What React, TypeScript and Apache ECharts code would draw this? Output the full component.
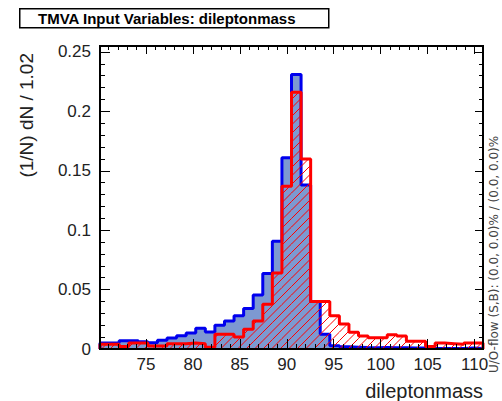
import React, { useEffect, useRef } from "react";
import * as echarts from "echarts";

// ---- data ----
const binWidth = 1.02;
const xMin = 70.1;
const xMax = 110.9;
const yMax = 0.255;

// signal (blue, filled) per bin, 40 bins of width 1.02 starting at xMin
const signalValues = [
  0.005, 0.005, 0.007, 0.007, 0.006, 0.0053, 0.0073, 0.0093, 0.0112, 0.0135,
  0.0175, 0.0143, 0.02, 0.0236, 0.028, 0.034, 0.0455, 0.0635, 0.0906, 0.161,
  0.231, 0.138, 0.04, 0.0125, 0.0028, 0.0018, 0.0015, 0.0012, 0.001, 0.0012,
  0.001, 0.001, 0.0008, 0.0008, 0.0006, 0.0005, 0.0005, 0.0005, 0.0008, 0.0005,
];

// background (red, hatched) per bin
const backgroundValues = [
  0.004, 0.004, 0.002, 0.005, 0.005, 0.0025, 0.0025, 0.0045, 0.0045, 0.005,
  0.0045, 0.0015, 0.0124, 0.0124, 0.01, 0.0166, 0.0236, 0.0377, 0.064, 0.137,
  0.216, 0.16, 0.04, 0.04, 0.028, 0.021, 0.014, 0.011, 0.0095, 0.0095,
  0.012, 0.011, 0.0065, 0.0065, 0.002, 0.005, 0.0045, 0.004, 0.005, 0.005,
];

const xMajorTicks = [75, 80, 85, 90, 95, 100, 105, 110];
const xMinorTicks = [
  71, 72, 73, 74, 76, 77, 78, 79, 81, 82, 83, 84, 86, 87, 88, 89, 91, 92, 93, 94,
  96, 97, 98, 99, 101, 102, 103, 104, 106, 107, 108, 109,
];
const yMajorTicks = [0, 0.05, 0.1, 0.15, 0.2, 0.25];
const yMinorTicks = [
  0.01, 0.02, 0.03, 0.04, 0.06, 0.07, 0.08, 0.09, 0.11, 0.12, 0.13, 0.14,
  0.16, 0.17, 0.18, 0.19, 0.21, 0.22, 0.23, 0.24,
];

const titleText = "TMVA Input Variables: dileptonmass";
const yTitle = "(1/N) dN / 1.02";
const xTitle = "dileptonmass";
const flowText = "U/O-flow (S,B): (0.0, 0.0)% / (0.0, 0.0)%";

function stepData(values: number[]) {
  const pts: number[][] = [[xMin, 0]];
  values.forEach((v, i) => pts.push([xMin + i * binWidth, v]));
  const end = xMin + values.length * binWidth;
  pts.push([end, values[values.length - 1]]);
  pts.push([end, 0]);
  return pts;
}

function binData(values: number[]) {
  return values.map((v, i) => [xMin + i * binWidth, xMin + (i + 1) * binWidth, v]);
}

const FONT = "Liberation Sans, Arial, Helvetica, sans-serif";

function xAxisDef(position: string, ticks: number[], len: number, labels: boolean) {
  return {
    type: "value",
    min: xMin,
    max: xMax,
    position,
    z: 11,
    axisLine: { show: false, onZero: false },
    splitLine: { show: false },
    axisTick: {
      show: true,
      inside: true,
      length: len,
      customValues: ticks,
      lineStyle: { color: "#000", width: 1 },
    },
    axisLabel: labels
      ? {
          show: true,
          customValues: ticks,
          fontSize: 17,
          fontFamily: FONT,
          color: "#222",
          margin: 7,
          formatter: (v: number) => String(v),
        }
      : { show: false },
  };
}

function yAxisDef(position: string, ticks: number[], len: number, labels: boolean) {
  return {
    type: "value",
    min: 0,
    max: yMax,
    position,
    z: 11,
    axisLine: { show: false, onZero: false },
    splitLine: { show: false },
    axisTick: {
      show: true,
      inside: true,
      length: len,
      customValues: ticks,
      lineStyle: { color: "#000", width: 1 },
    },
    axisLabel: labels
      ? {
          show: true,
          customValues: ticks,
          fontSize: 17,
          fontFamily: FONT,
          color: "#222",
          margin: 9,
          formatter: (v: number) => String(v),
        }
      : { show: false },
  };
}

export default function App() {
  const ref = useRef<HTMLDivElement>(null);

  useEffect(() => {
    document.body.style.margin = "0";
    if (!ref.current) return;
    const chart = echarts.init(ref.current, null, { renderer: "svg" });
    const hatchSpacing = 8.5;

    const option: any = {
      animation: false,
      grid: {
        left: 100,
        top: 46,
        width: 383,
        height: 303,
        show: true,
        borderColor: "#000",
        borderWidth: 2,
        backgroundColor: "transparent",
        z: 10,
      },
      xAxis: [
        xAxisDef("bottom", xMajorTicks, 10, true),
        xAxisDef("bottom", xMinorTicks, 5, false),
        xAxisDef("top", xMajorTicks, 8, false),
        xAxisDef("top", xMinorTicks, 4, false),
      ],
      yAxis: [
        yAxisDef("left", yMajorTicks, 10, true),
        yAxisDef("left", yMinorTicks, 5, false),
        yAxisDef("right", yMajorTicks, 8, false),
        yAxisDef("right", yMinorTicks, 4, false),
      ],
      series: [
        {
          name: "Signal",
          type: "line",
          xAxisIndex: 0,
          yAxisIndex: 0,
          data: stepData(signalValues),
          step: "end",
          symbol: "none",
          showSymbol: false,
          z: 2,
          lineStyle: { color: "#0000ee", width: 3 },
          areaStyle: { color: "#7d99d1", opacity: 1 },
        },
        {
          name: "Background hatch",
          type: "custom",
          xAxisIndex: 0,
          yAxisIndex: 0,
          z: 3,
          data: binData(backgroundValues),
          encode: { x: [0, 1], y: 2 },
          renderItem: (params: any, api: any) => {
            const x0 = api.value(0);
            const x1 = api.value(1);
            const v = api.value(2);
            const p0 = api.coord([x0, 0]);
            const p1 = api.coord([x1, v]);
            const left = p0[0];
            const right = p1[0];
            const bottom = p0[1];
            const top = p1[1];
            const children: any[] = [];
            const kmin = Math.ceil((left + top) / hatchSpacing);
            const kmax = Math.floor((right + bottom) / hatchSpacing);
            for (let k = kmin; k <= kmax; k++) {
              const c = k * hatchSpacing;
              const xs = Math.max(left, c - bottom);
              const xe = Math.min(right, c - top);
              if (xe > xs) {
                children.push({
                  type: "line",
                  shape: { x1: xs, y1: c - xs, x2: xe, y2: c - xe },
                  style: { stroke: "#ff0000", lineWidth: 1 },
                });
              }
            }
            return { type: "group", children };
          },
        },
        {
          name: "Background",
          type: "line",
          xAxisIndex: 0,
          yAxisIndex: 0,
          data: stepData(backgroundValues),
          step: "end",
          symbol: "none",
          showSymbol: false,
          z: 4,
          lineStyle: { color: "#ff0000", width: 3 },
        },
      ],
      graphic: [
        {
          type: "rect",
          left: 19,
          top: 8,
          z: 20,
          shape: { width: 309, height: 19 },
          style: { fill: "#fff", stroke: "#000", lineWidth: 1.5 },
        },
        {
          type: "text",
          x: 38,
          y: 18,
          z: 21,
          style: {
            text: titleText,
            font: `bold 15px ${FONT}`,
            fill: "#000",
            verticalAlign: "middle",
            align: "left",
          },
        },
        {
          type: "text",
          x: 26,
          y: 53,
          rotation: Math.PI / 2,
          z: 21,
          style: {
            text: yTitle,
            font: `19px ${FONT}`,
            fill: "#222",
            align: "right",
            verticalAlign: "middle",
          },
        },
        {
          type: "text",
          x: 483,
          y: 391,
          z: 21,
          style: {
            text: xTitle,
            font: `20px ${FONT}`,
            fill: "#222",
            align: "right",
            verticalAlign: "middle",
          },
        },
        {
          type: "text",
          x: 494,
          y: 373,
          rotation: Math.PI / 2,
          z: 21,
          style: {
            text: flowText,
            font: `12px DejaVu Sans, sans-serif`,
            fill: "#444",
            align: "left",
            verticalAlign: "middle",
          },
        },
      ],
    };

    chart.setOption(option);
    return () => chart.dispose();
  }, []);

  return <div ref={ref} style={{ width: 502, height: 401 }} />;
}
